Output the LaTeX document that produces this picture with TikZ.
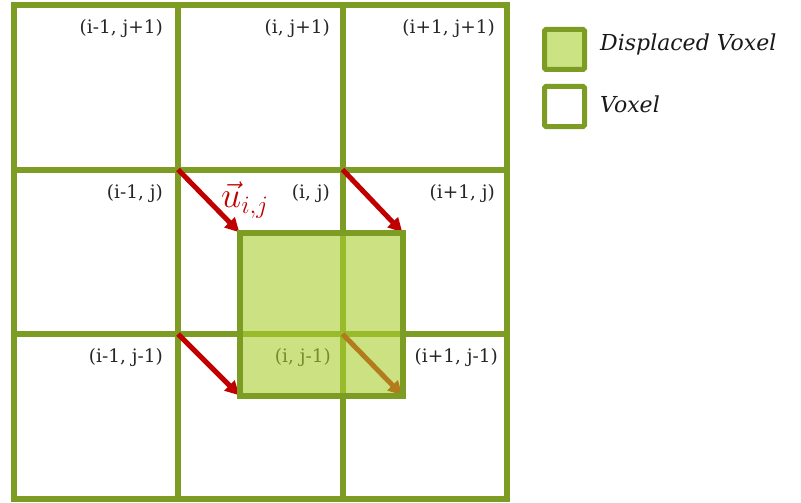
\documentclass[tikz,border=0pt]{standalone}
\usepackage{fontspec}
\setmainfont{DejaVu Serif}
\usepackage{amsmath}
\usetikzlibrary{arrows.meta}
\begin{document}
\begin{tikzpicture}[x=1pt,y=-1pt,
  gridline/.style={draw=olive, line width=6pt},
  celllabel/.style={anchor=east, inner sep=0pt, font=\fontsize{18.5}{22}\selectfont, text=black!85},
  disp/.style={draw=arrowred, line width=5pt, -{Triangle[length=14pt,width=14pt]}, shorten >=1pt},
  legbox/.style={draw=olive, line width=5pt, rounded corners=1.5pt, minimum size=40pt, inner sep=0pt},
  legtext/.style={anchor=base west, inner sep=0pt, font=\fontsize{22}{26}\selectfont\itshape, text=black!90}]
\definecolor{olive}{RGB}{124,156,36}
\definecolor{dispfill}{RGB}{170,208,48}
\definecolor{arrowred}{RGB}{192,0,0}
\useasboundingbox (0,0) rectangle (801,503);
\fill[white] (0,0) rectangle (801,503);
% grid
\draw[gridline] (13.5,5) rectangle (507,498.5);
\draw[gridline] (178,5) -- (178,498.5);
\draw[gridline] (342.5,5) -- (342.5,498.5);
\draw[gridline] (13.5,169.5) -- (507,169.5);
\draw[gridline] (13.5,334) -- (507,334);
% corner coordinates
\coordinate (a1) at (178,169.5);
\coordinate (a2) at (342.5,169.5);
\coordinate (a3) at (178,334);
\coordinate (a4) at (342.5,334);
\coordinate (b1) at (240,233);
\coordinate (b2) at (403,233);
\coordinate (b3) at (240,396);
\coordinate (b4) at (403,396);
% labels
\node[celllabel] (l1) at (163,29) {(i-1, j+1)};
\node[celllabel] (l2) at (330,29) {(i, j+1)};
\node[celllabel] (l3) at (495,29) {(i+1, j+1)};
\node[celllabel] (l4) at (163,194) {(i-1, j)};
\node[celllabel] (l5) at (330,194) {(i, j)};
\node[celllabel] (l6) at (495,194) {(i+1, j)};
\node[celllabel] (l7) at (163,358) {(i-1, j-1)};
\node[celllabel] (l8) at (331,358) {(i, j-1)};
\node[celllabel] (l9) at (498,358) {(i+1, j-1)};
% arrows
\draw[disp] (a1) -- (b1);
\draw[disp] (a2) -- (b2);
\draw[disp] (a3) -- (b3);
\draw[disp] (a4) -- (b4);
\node[text=arrowred, inner sep=0pt, scale=1.45] (u) at (245,200) {\fontsize{24}{28}\selectfont$\vec{u}_{i,j}$};
% displaced voxel
\fill[dispfill, fill opacity=0.6] (b1) rectangle (b4);
\draw[olive, line width=6pt] (b1) rectangle (b4);
% legend
\node[legbox, fill=dispfill!60!white] (k1) at (564.5,49.5) {};
\node[legbox, fill=white] (k2) at (564.5,106.5) {};
\node[legtext] (t1) at (600,51) {Displaced Voxel};
\node[legtext] (t2) at (600,113) {Voxel};
\end{tikzpicture}
\end{document}
